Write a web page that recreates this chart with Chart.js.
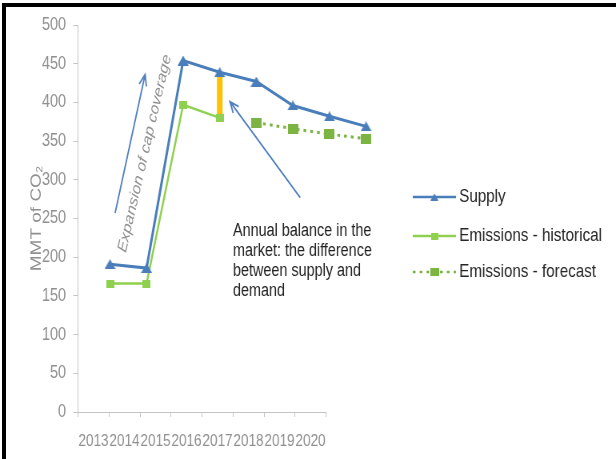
<!DOCTYPE html>
<html>
<head>
<meta charset="utf-8">
<script src="https://cdn.jsdelivr.net/npm/chart.js@4.4.1/dist/chart.umd.min.js"></script>
<style>
  html, body { margin: 0; padding: 0; background: #fff; overflow: hidden; }
  #wrap { position: relative; width: 616px; height: 459px; overflow: hidden; }
  /* el original se ve comprimido en horizontal: se dibuja mas ancho y se comprime */
  #grafico { position: absolute; left: 0; top: 0; transform: scaleX(0.8); transform-origin: 0 0; }
  #marcoArriba { position: absolute; left: 2px; top: 3px; width: 614px; height: 4px; background: #000; }
  #marcoIzq { position: absolute; left: 2px; top: 3px; width: 4px; height: 456px; background: #000; }
</style>
</head>
<body>
<div id="wrap">
  <canvas id="grafico" width="770" height="459"></canvas>
  <div id="marcoArriba"></div>
  <div id="marcoIzq"></div>
</div>
<script>
// datos
const anios = [2013, 2014, 2015, 2016, 2017, 2018, 2019, 2020];
const etiquetasX = ['2013', '2014', '2015', '2016', '2017', '2018', '2019', '2020'];
const oferta = [191, 186, 454, 439, 427, 396, 382, 369];
const emisionesHist = [166, 166, 397, 380, null, null, null, null];
const emisionesPronostico = [null, null, null, null, 374, 366, 359, 353];
const balanceAnio = 2016;
const balanceRango = [380, 439];

const ESCALA = 0.8;
const fuente = "'Liberation Sans', Arial, sans-serif";
const gris = '#8f8f8f';
const ejeColor = '#c4c4c4';
const azul = '#4a7ebb';
const verde = '#8fd04f';
const verdeOscuro = '#7cb443';

const puntos = serie => serie.map((v, i) => ({ x: anios[i], y: v }));

// marcadores con el ancho corregido para que se vean bien tras la compresion
function marcador(tipo, anchoVisto, alto, color) {
    const c = document.createElement('canvas');
    c.width = Math.round(anchoVisto / ESCALA);
    c.height = alto;
    const g = c.getContext('2d');
    g.fillStyle = color;
    if (tipo === 'tri') {
        g.beginPath();
        g.moveTo(c.width / 2, 0);
        g.lineTo(c.width, c.height);
        g.lineTo(0, c.height);
        g.closePath();
        g.fill();
    } else {
        g.fillRect(0, 0, c.width, c.height);
    }
    return c;
}

const triOferta = marcador('tri', 11, 10, azul);
const cuadHist = marcador('cuad', 8, 8, verde);
const cuadPron = marcador('cuad', 10, 10, verdeOscuro);

// flecha con punta abierta
function flecha(ctx, x1, y1, x2, y2) {
    const ang = Math.atan2(y2 - y1, x2 - x1);
    const largo = 12;
    ctx.beginPath();
    ctx.moveTo(x1, y1);
    ctx.lineTo(x2, y2);
    ctx.moveTo(x2 - largo * Math.cos(ang - 0.4), y2 - largo * Math.sin(ang - 0.4));
    ctx.lineTo(x2, y2);
    ctx.lineTo(x2 - largo * Math.cos(ang + 0.4), y2 - largo * Math.sin(ang + 0.4));
    ctx.stroke();
}

const extras = {
    id: 'extras',
    afterDraw(chart) {
        const ctx = chart.ctx;
        const xs = chart.scales.x;
        const xd = chart.scales.xd;
        const y = chart.scales.y;

        // linea del eje x hasta 2020
        const paso = xs.getPixelForValue(1) - xs.getPixelForValue(0);
        const fin = xs.getPixelForValue(anios.length - 1) + paso / 2;
        ctx.save();
        ctx.strokeStyle = ejeColor;
        ctx.lineWidth = 1;
        ctx.beginPath();
        ctx.moveTo(xs.left, y.getPixelForValue(0) + 0.5);
        ctx.lineTo(fin, y.getPixelForValue(0) + 0.5);
        ctx.stroke();

        // flechas
        ctx.strokeStyle = '#4f7fc0';
        ctx.lineWidth = 1.8;
        flecha(ctx, xd.getPixelForValue(2013.14), y.getPixelForValue(257),
                    xd.getPixelForValue(2013.96), y.getPixelForValue(436));
        flecha(ctx, xd.getPixelForValue(2018.2), y.getPixelForValue(277),
                    xd.getPixelForValue(2016.28), y.getPixelForValue(401));

        // texto rotado
        ctx.save();
        ctx.translate(xd.getPixelForValue(2013.95), y.getPixelForValue(334));
        ctx.rotate(-74 * Math.PI / 180);
        ctx.font = 'italic 17px ' + fuente;
        ctx.fillStyle = gris;
        ctx.textAlign = 'center';
        ctx.textBaseline = 'middle';
        ctx.fillText('Expansion of cap coverage', 0, 0);
        ctx.restore();

        // nota del balance
        const nota = ['Annual balance in the', 'market: the difference', 'between supply and', 'demand'];
        ctx.font = '18px ' + fuente;
        ctx.fillStyle = '#222';
        ctx.textAlign = 'left';
        ctx.textBaseline = 'middle';
        nota.forEach((t, i) => {
            ctx.fillText(t, xd.getPixelForValue(2016.36), y.getPixelForValue(234) + i * 20);
        });

        // leyenda
        const filas = [197, 236, 272];
        const marcas = [marcador('tri', 8, 7, azul), marcador('cuad', 7, 7, verde), marcador('cuad', 9, 8, verdeOscuro)];
        chart.data.datasets.slice(0, 3).forEach((ds, i) => {
            const yy = filas[i];
            ctx.strokeStyle = ds.borderColor;
            ctx.lineWidth = 2.5;
            ctx.setLineDash(ds.borderDash || []);
            ctx.beginPath();
            ctx.moveTo(516, yy);
            ctx.lineTo(570, yy);
            ctx.stroke();
            ctx.setLineDash([]);
            const m = marcas[i];
            ctx.drawImage(m, 543 - m.width / 2, yy - m.height / 2);
            ctx.fillStyle = '#262626';
            ctx.font = '19px ' + fuente;
            ctx.textAlign = 'left';
            ctx.textBaseline = 'middle';
            ctx.fillText(ds.label, 574, yy);
        });
        ctx.restore();
    }
};

new Chart(document.getElementById('grafico').getContext('2d'), {
    type: 'line',
    data: {
        labels: etiquetasX.concat(['', '']),
        datasets: [{
            label: 'Supply',
            data: puntos(oferta),
            xAxisID: 'xd',
            borderColor: azul,
            backgroundColor: azul,
            borderWidth: 3,
            pointStyle: triOferta,
            order: 0
        }, {
            label: 'Emissions - historical',
            data: puntos(emisionesHist),
            xAxisID: 'xd',
            borderColor: verde,
            backgroundColor: verde,
            borderWidth: 2.5,
            pointStyle: cuadHist,
            order: 1
        }, {
            label: 'Emissions - forecast',
            data: puntos(emisionesPronostico),
            xAxisID: 'xd',
            borderColor: verdeOscuro,
            backgroundColor: verdeOscuro,
            borderWidth: 3,
            borderDash: [3.5, 5],
            pointStyle: cuadPron,
            order: 2
        }, {
            label: 'balance',
            data: balanceRango.map(v => ({ x: balanceAnio, y: v })),
            xAxisID: 'xd',
            borderColor: '#ffc000',
            borderWidth: 7,
            pointRadius: 0,
            order: 3
        }]
    },
    options: {
        responsive: false,
        animation: false,
        devicePixelRatio: 1,
        layout: { padding: { top: 25, right: 285, left: 0, bottom: 0 } },
        plugins: { legend: { display: false }, tooltip: { enabled: false } },
        elements: { line: { tension: 0 } },
        scales: {
            xd: {
                type: 'linear',
                display: false,
                min: 2012.125,
                max: 2020.6
            },
            x: {
                type: 'category',
                offset: true,
                afterFit: s => { s.height = 47; },
                border: { display: false },
                grid: {
                    offset: true,
                    drawOnChartArea: false,
                    tickLength: 5,
                    color: c => c.index <= anios.length ? ejeColor : 'rgba(0,0,0,0)'
                },
                ticks: {
                    autoSkip: false,
                    maxRotation: 0,
                    padding: 14,
                    color: gris,
                    font: { family: fuente, size: 17 }
                }
            },
            y: {
                min: 0,
                max: 500,
                afterFit: s => { s.width = 97.5; },
                border: { display: true, color: ejeColor },
                grid: { drawOnChartArea: false, tickLength: 6, color: ejeColor },
                ticks: {
                    stepSize: 50,
                    padding: 9,
                    color: gris,
                    font: { family: fuente, size: 18 }
                },
                title: {
                    display: true,
                    text: 'MMT of CO₂',
                    color: gris,
                    padding: { top: 34, bottom: 0 },
                    font: { family: fuente, size: 19 }
                }
            }
        }
    },
    plugins: [extras]
});
</script>
</body>
</html>
